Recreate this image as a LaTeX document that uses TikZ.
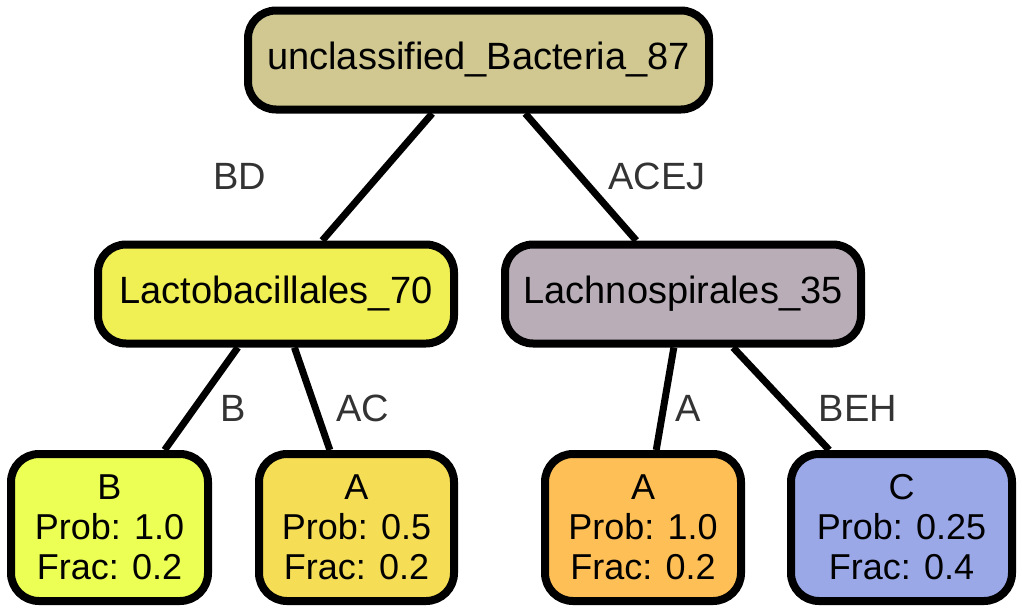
\documentclass[tikz,border=0pt]{standalone}
\usepackage{fontspec}
\setmainfont{Liberation Sans}
\definecolor{cRoot}{HTML}{D0C890}
\definecolor{cLacto}{HTML}{F0F055}
\definecolor{cLachno}{HTML}{B9AEB8}
\definecolor{cB}{HTML}{EBFF55}
\definecolor{cAh}{HTML}{F5DE55}
\definecolor{cAo}{HTML}{FEC056}
\definecolor{cC}{HTML}{9AA8E8}
\definecolor{lbl}{HTML}{333333}
\tikzset{
  tnode/.style={draw=black, line width=8pt, rounded corners=28pt, inner sep=0pt,
    align=center},
  leaf/.style={tnode, minimum height=147pt, font=\fontsize{36}{40}\selectfont},
  inner/.style={tnode, minimum height=99pt, font=\fontsize{38}{42}\selectfont},
  edge/.style={draw=black, line width=7pt},
  elabel/.style={text=lbl, font=\fontsize{38}{42}\selectfont, inner sep=0pt}
}
\begin{document}
\begin{tikzpicture}[x=1pt,y=-1pt]
\useasboundingbox (0,0) rectangle (1022,613);
\node[inner, fill=cRoot, minimum width=461pt] (root) at (478.5,60) {unclassified\_Bacteria\_87};
\node[inner, fill=cLacto, minimum width=356pt] (lacto) at (276,294) {Lactobacillales\_70};
\node[inner, fill=cLachno, minimum width=356pt] (lachno) at (683,294) {Lachnospirales\_35};
\node[leaf, fill=cB, minimum width=197pt] (lB) at (109.5,527.5) {B\\Prob: 1.0\\Frac: 0.2};
\node[leaf, fill=cAh, minimum width=195pt] (lA1) at (356.5,527.5) {A\\Prob: 0.5\\Frac: 0.2};
\node[leaf, fill=cAo, minimum width=196pt] (lA2) at (643,527.5) {A\\Prob: 1.0\\Frac: 0.2};
\node[leaf, fill=cC, minimum width=221pt] (lC) at (901.5,527.5) {C\\Prob: 0.25\\Frac: 0.4};
\path[edge] (root) -- (lacto);
\path[edge] (root) -- (lachno);
\path[edge] (lacto) -- (lB);
\path[edge] (lacto) -- (lA1);
\path[edge] (lachno) -- (lA2);
\path[edge] (lachno) -- (lC);
\node[elabel] (tBD) at (240,176) {BD};
\node[elabel] (tACEJ) at (657,176) {ACEJ};
\node[elabel] (tB) at (233,408) {B};
\node[elabel] (tAC) at (363,408) {AC};
\node[elabel] (tA) at (688,408) {A};
\node[elabel] (tBEH) at (858,408) {BEH};
\end{tikzpicture}
\end{document}
